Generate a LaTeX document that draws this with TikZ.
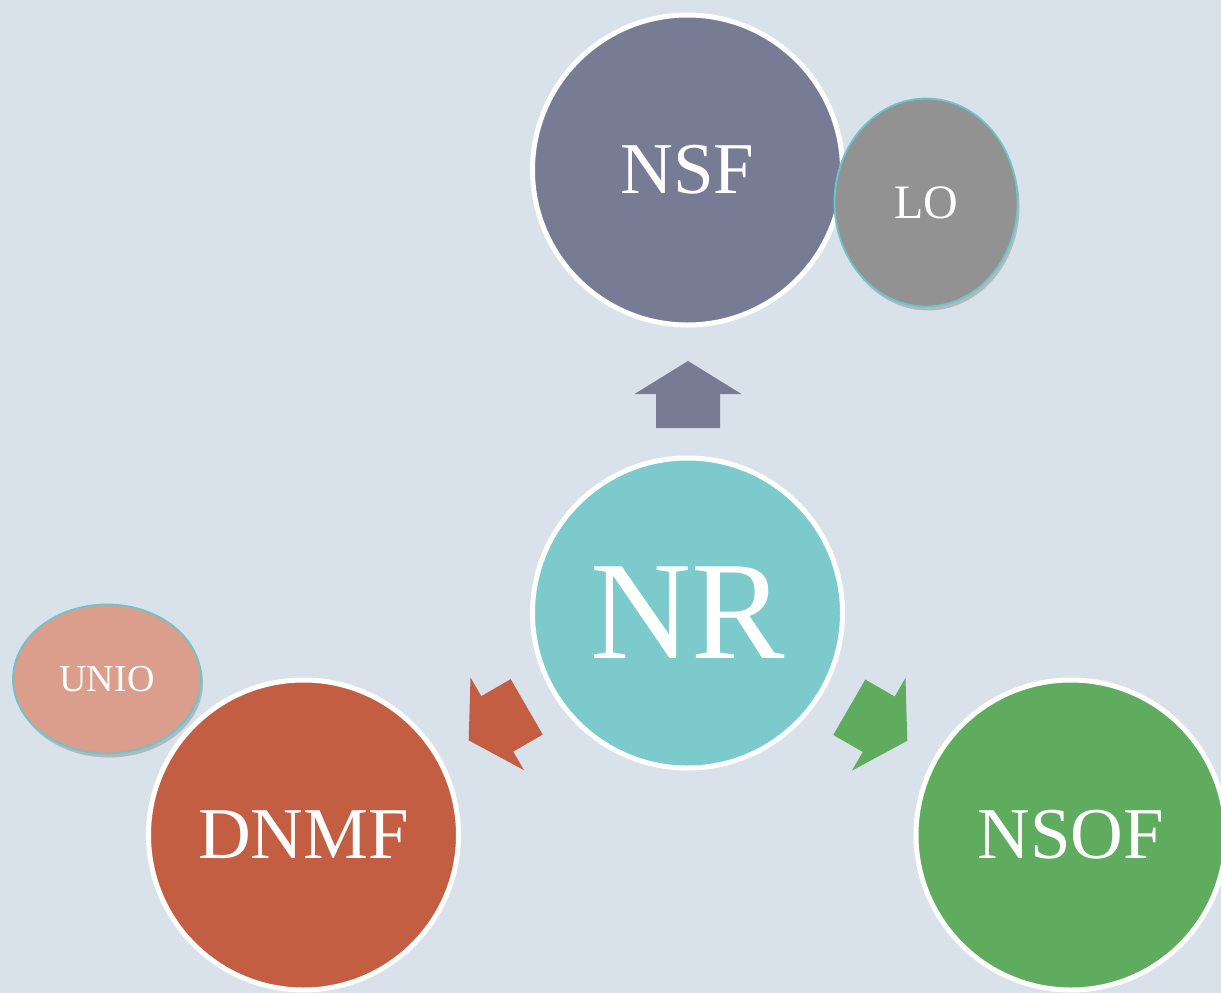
\documentclass[tikz,border=0pt]{standalone}
\usepackage{fontspec}
\setmainfont{Liberation Serif}
\usetikzlibrary{shapes.geometric,shadows}
\definecolor{bg}{HTML}{D9E2EA}
\definecolor{nsfc}{HTML}{777B94}
\definecolor{nrc}{HTML}{7CCACB}
\definecolor{dnmfc}{HTML}{C35E43}
\definecolor{nsofc}{HTML}{5FAC5F}
\definecolor{loc}{HTML}{929292}
\definecolor{unioc}{HTML}{DB9D8C}
\definecolor{rimc}{HTML}{6CC5C8}
\tikzset{
  bigcirc/.style={circle, draw=white, line width=5pt, minimum size=310pt, inner sep=0pt, text=white},
  smallell/.style={ellipse, draw=rimc, line width=1.8pt, inner sep=0pt, text=white,
     drop shadow={shadow xshift=2pt, shadow yshift=-4pt, fill=black, opacity=0.18}},
  blockarrow/.pic={
    \fill[pic actions] (-33.5,-32) -- (0.5,-32) -- (0.5,-53.5) -- (33.5,0) -- (0.5,53.5) -- (0.5,32) -- (-33.5,32) -- cycle;
  }
}
\begin{document}
\begin{tikzpicture}[x=1pt,y=-1pt]
\fill[bg] (0,0) rectangle (1221,993);
\useasboundingbox (0,0) rectangle (1221,993);
\clip (0,0) rectangle (1221,993);
% main circles
\node[bigcirc, fill=nsfc, font=\fontsize{73}{80}\selectfont] (nsf) at (687.5,170) {NSF};
\node[bigcirc, fill=nrc, font=\fontsize{140}{150}\selectfont] (nr) at (687.5,613) {NR};
\node[bigcirc, fill=dnmfc, font=\fontsize{73}{80}\selectfont] (dnmf) at (303.5,835) {DNMF};
\node[bigcirc, fill=nsofc, font=\fontsize{73}{80}\selectfont] (nsof) at (1071,835) {NSOF};
% small ellipses
\node[smallell, fill=loc, minimum width=183pt, minimum height=208pt, font=\fontsize{48}{52}\selectfont] (lo) at (926,202.5) {LO};
\node[smallell, fill=unioc, minimum width=188pt, minimum height=149pt, font=\fontsize{38}{42}\selectfont] (unio) at (107,679) {UNIO};
% block arrows
\pic[fill=nsfc, rotate=90] (up) at (688,394.5) {blockarrow};
\pic[fill=dnmfc, rotate=210] (left) at (497.7,723.6) {blockarrow};
\pic[fill=nsofc, rotate=330] (right) at (878.3,724) {blockarrow};
\end{tikzpicture}
\end{document}
